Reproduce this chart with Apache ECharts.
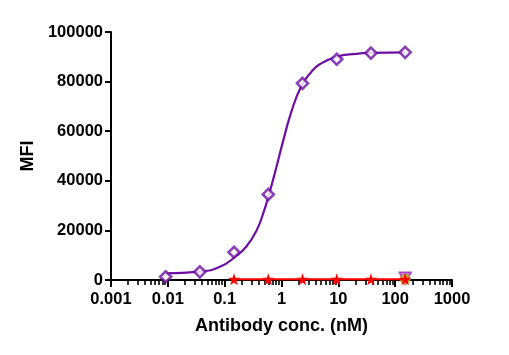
<!DOCTYPE html>
<html>
<head>
<meta charset="utf-8">
<script src="https://cdn.jsdelivr.net/npm/echarts@6/dist/echarts.min.js"></script>
<style>html,body{margin:0;padding:0;background:#fff}#c{width:509px;height:355px}</style>
</head>
<body>
<div id="c"></div>
<script>
// Concentrations (nM)
const conc = [0.00916, 0.0366, 0.146, 0.586, 2.34, 9.375, 37.5, 150];
// Antibody MFI (purple diamonds)
const antibodyMFI = [1300, 3300, 11200, 34500, 79300, 89000, 91500, 91800];
// Fitted curve (x, y)
const fitConc = [0.00916, 0.0366, 0.0824, 0.162, 0.243, 0.364, 0.475, 0.605, 0.817, 1.066, 1.50, 2.25, 3.37, 4.71, 9.27, 20.8, 38.2, 150];
const fitMFI  = [2700, 3350, 5300, 9800, 13600, 20000, 26800, 34600, 45700, 56000, 68000, 78300, 84000, 87000, 90000, 91200, 91600, 91800];
// Control (red stars)
const ctrlConc = [0.146, 0.586, 2.34, 9.375, 37.5, 150];
const ctrlMFI  = [300, 300, 300, 300, 300, 300];
// Other controls at top concentration
const triConc = [150], triMFI = [700];
const circConc = [150], circMFI = [300];
// Tick labels
const xTickLabels = ['0.001', '0.01', '0.1', '1', '10', '100', '1000'];
const yTickLabels = ['0', '20000', '40000', '60000', '80000', '100000'];
const minorTicks = [];
for (let e = -3; e < 3; e++) for (let m = 2; m <= 9; m++) minorTicks.push(+(m * Math.pow(10, e)).toPrecision(3));

const FONT = 'Liberation Sans, Arial, sans-serif';
const PURPLE = '#6E0FA3';
const chart = echarts.init(document.getElementById('c'), null, {renderer: 'canvas'});
const z = (a, b) => a.map((v, i) => [v, b[i]]);
chart.setOption({
  animation: false,
  grid: {left: 111, right: 57, top: 32, bottom: 75, containLabel: false},
  xAxis: [{
    type: 'log', logBase: 10, min: 0.001, max: 1000,
    name: 'Antibody conc. (nM)', nameLocation: 'middle', nameGap: 37,
    nameTextStyle: {fontFamily: FONT, fontWeight: 'bold', fontSize: 18, color: '#000'},
    axisLine: {show: true, onZero: false, lineStyle: {color: '#000', width: 2}},
    axisTick: {show: true, inside: false, length: 7, lineStyle: {color: '#000', width: 2}},
    minorTick: {show: false},
    splitLine: {show: false},
    axisLabel: {margin: 11, fontFamily: FONT, fontWeight: 'bold', fontSize: 16.5, color: '#000',
      formatter: v => xTickLabels[Math.round(Math.log10(v)) + 3]}
  }, {
    type: 'log', logBase: 10, min: 0.001, max: 1000, position: 'bottom',
    axisLine: {show: false},
    axisTick: {show: true, length: 5, customValues: minorTicks, lineStyle: {color: '#000', width: 1.6}},
    axisLabel: {show: false}, splitLine: {show: false}
  }],
  yAxis: {
    type: 'value', min: 0, max: 100000, interval: 20000,
    name: 'MFI', nameLocation: 'middle', nameGap: 73, nameRotate: 90,
    nameTextStyle: {fontFamily: FONT, fontWeight: 'bold', fontSize: 18, color: '#000'},
    axisLine: {show: true, lineStyle: {color: '#000', width: 2}},
    axisTick: {show: true, length: 6, lineStyle: {color: '#000', width: 2}},
    splitLine: {show: false},
    axisLabel: {margin: 8, fontFamily: FONT, fontWeight: 'bold', fontSize: 16.5, color: '#000',
      formatter: v => yTickLabels[Math.round(v / 20000)]}
  },
  series: [
    {type: 'line', data: z(fitConc, fitMFI), smooth: 0.5, showSymbol: false, symbol: 'none',
     lineStyle: {color: PURPLE, width: 2.2}, z: 2},
    {type: 'scatter', data: z(conc, antibodyMFI), symbol: 'diamond', symbolSize: 11,
     itemStyle: {color: '#fff', borderColor: PURPLE, borderWidth: 2.6}, z: 3},
    {type: 'scatter', data: z(triConc, triMFI), symbol: 'triangle', symbolRotate: 180, symbolSize: 12,
     itemStyle: {color: '#D050D8', borderColor: '#9A30B0', borderWidth: 1.5}, z: 3},
    {type: 'scatter', data: z(circConc, circMFI), symbol: 'circle', symbolSize: 10,
     itemStyle: {color: '#C8B820', borderColor: '#A89810', borderWidth: 1}, z: 4},
    {type: 'line', data: z(ctrlConc, ctrlMFI), symbol: 'path://M0,-10 L2.35,-3.24 L9.51,-3.09 L3.8,1.24 L5.88,8.09 L0,4 L-5.88,8.09 L-3.8,1.24 L-9.51,-3.09 L-2.35,-3.24 Z',
     symbolSize: 12, showAllSymbol: true,
     itemStyle: {color: '#FF0000'}, lineStyle: {color: '#FF0000', width: 2}, z: 5}
  ]
});
</script>
</body>
</html>
